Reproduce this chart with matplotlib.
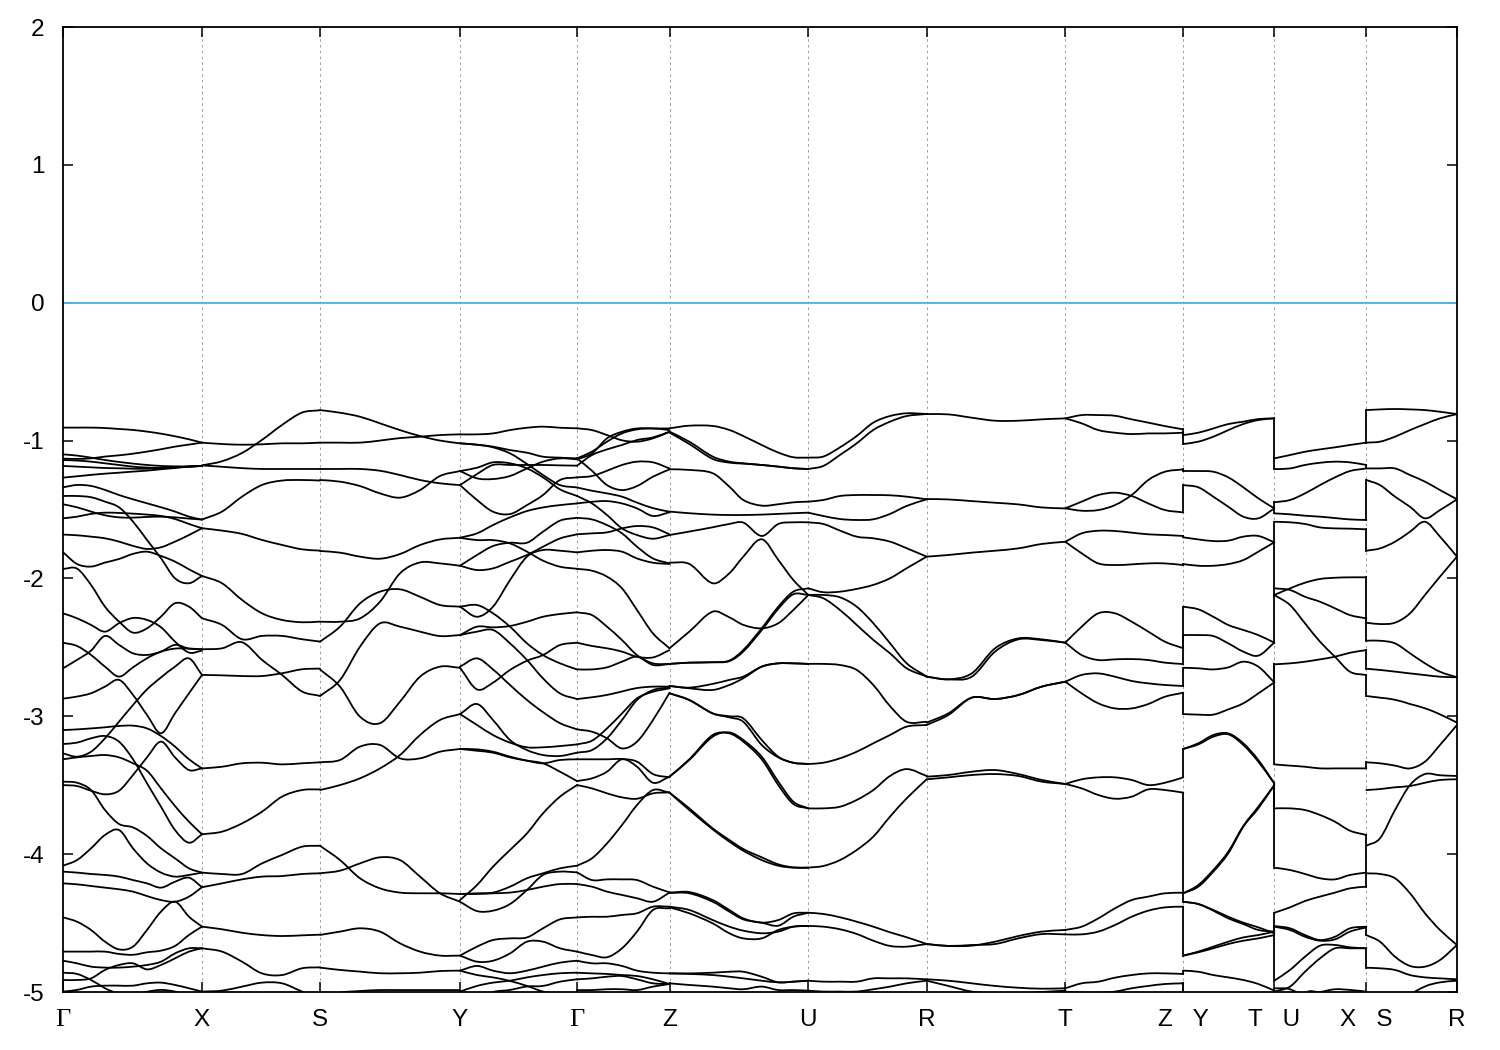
import matplotlib
matplotlib.use("Agg")
import matplotlib.pyplot as plt
from matplotlib.path import Path
from matplotlib.patches import PathPatch

# symmetry points along the k-path
tick_k = [0.0, 1.39, 2.57, 3.97, 5.14, 6.065, 7.453, 8.637, 10.023, 11.203, 12.113, 13.033, 13.94]
tick_labels = ["\u0393", "X", "S", "Y", "\u0393", "Z", "U", "R", "T", "Z   Y", "T   U", "X   S", "R"]
energy_ticks = [-5, -4, -3, -2, -1, 0, 1, 2]

k_gx = [0.0, .14, .28, .42, .56, .70, .84, .98, 1.12, 1.26, 1.39]
e_gx = [
 [-.906,-.906,-.906,-.909,-.916,-.923,-.935,-.95,-.969,-.991,-1.015],
 [-1.131,-1.133,-1.129,-1.116,-1.107,-1.095,-1.08,-1.063,-1.044,-1.029,-1.015],
 [-1.10,-1.109,-1.124,-1.141,-1.155,-1.167,-1.177,-1.184,-1.187,-1.187,-1.184],
 [-1.141,-1.145,-1.153,-1.165,-1.177,-1.189,-1.196,-1.199,-1.194,-1.189,-1.184],
 [-1.184,-1.189,-1.194,-1.199,-1.201,-1.204,-1.204,-1.199,-1.194,-1.189,-1.184],
 [-1.269,-1.259,-1.249,-1.24,-1.233,-1.225,-1.218,-1.208,-1.199,-1.189,-1.184],
 [-1.339,-1.322,-1.329,-1.358,-1.395,-1.426,-1.455,-1.484,-1.515,-1.552,-1.573],
 [-1.402,-1.402,-1.411,-1.443,-1.484,-1.588,-1.721,-1.854,-1.999,-2.035,-1.982],
 [-1.462,-1.484,-1.515,-1.542,-1.557,-1.559,-1.554,-1.552,-1.557,-1.566,-1.573],
 [-1.564,-1.552,-1.532,-1.523,-1.525,-1.53,-1.537,-1.547,-1.569,-1.605,-1.636],
 [-1.682,-1.687,-1.697,-1.709,-1.733,-1.764,-1.786,-1.774,-1.733,-1.685,-1.636],
 [-1.81,-1.895,-1.914,-1.885,-1.859,-1.822,-1.806,-1.837,-1.878,-1.934,-1.982],
 [-1.931,-1.929,-2.047,-2.205,-2.313,-2.393,-2.362,-2.277,-2.18,-2.205,-2.289],
 [-2.253,-2.289,-2.337,-2.386,-2.325,-2.287,-2.301,-2.354,-2.458,-2.538,-2.524],
 [-2.652,-2.591,-2.524,-2.417,-2.482,-2.543,-2.555,-2.531,-2.482,-2.509,-2.514],
 [-2.466,-2.49,-2.555,-2.64,-2.712,-2.645,-2.579,-2.531,-2.509,-2.509,-2.514],
 [-2.872,-2.857,-2.833,-2.785,-2.736,-2.845,-2.99,-3.123,-2.978,-2.833,-2.70],
 [-3.269,-3.293,-3.257,-3.16,-3.039,-2.918,-2.805,-2.718,-2.64,-2.58,-2.70],
 [-3.10,-3.095,-3.088,-3.08,-3.07,-3.068,-3.088,-3.143,-3.22,-3.312,-3.378],
 [-3.201,-3.191,-3.16,-3.143,-3.184,-3.312,-3.486,-3.656,-3.825,-3.917,-3.856],
 [-3.312,-3.298,-3.288,-3.281,-3.298,-3.341,-3.395,-3.523,-3.651,-3.765,-3.856],
 [-3.499,-3.506,-3.54,-3.566,-3.54,-3.426,-3.298,-3.184,-3.298,-3.39,-3.378],
 [-3.474,-3.482,-3.535,-3.68,-3.781,-3.806,-3.868,-3.958,-4.03,-4.103,-4.134],
 [-4.084,-4.043,-3.958,-3.861,-3.825,-3.958,-4.067,-4.134,-4.163,-4.151,-4.134],
 [-4.127,-4.134,-4.144,-4.151,-4.163,-4.188,-4.212,-4.243,-4.2,-4.171,-4.24],
 [-4.212,-4.219,-4.231,-4.243,-4.255,-4.272,-4.304,-4.333,-4.345,-4.308,-4.24],
 [-4.458,-4.49,-4.55,-4.635,-4.691,-4.671,-4.55,-4.417,-4.345,-4.454,-4.526],
 [-4.707,-4.707,-4.707,-4.707,-4.724,-4.73,-4.712,-4.70,-4.666,-4.586,-4.526],
 [-4.773,-4.792,-4.816,-4.823,-4.823,-4.816,-4.804,-4.78,-4.72,-4.683,-4.683],
 [-4.913,-4.913,-4.901,-4.84,-4.804,-4.792,-4.836,-4.804,-4.756,-4.707,-4.683],
 [-4.86,-4.869,-4.913,-4.973,-5.03,-5.2,-5.2,-5.2,-5.2,-5.2,-5.2],
 [-4.997,-4.985,-4.961,-4.954,-4.954,-4.954,-4.937,-4.932,-4.949,-4.973,-4.997],
 [-5.2,-5.2,-5.2,-5.2,-5.05,-5.02,-4.998,-4.985,-4.997,-5.03,-5.03],
]

k_xs = [1.39, 1.59, 1.79, 1.99, 2.19, 2.39, 2.57]
e_xs = [
 [-1.18,-1.15,-1.09,-.995,-.887,-.797,-.78],
 [-1.015,-1.025,-1.03,-1.027,-1.02,-1.02,-1.015],
 [-1.18,-1.19,-1.2,-1.206,-1.206,-1.206,-1.206],
 [-1.573,-1.515,-1.407,-1.322,-1.29,-1.286,-1.29],
 [-1.636,-1.653,-1.677,-1.721,-1.757,-1.789,-1.798],
 [-1.982,-2.035,-2.156,-2.253,-2.301,-2.318,-2.313],
 [-2.289,-2.337,-2.441,-2.417,-2.417,-2.441,-2.458],
 [-2.514,-2.507,-2.463,-2.591,-2.70,-2.82,-2.852],
 [-2.70,-2.703,-2.708,-2.708,-2.688,-2.659,-2.654],
 [-3.378,-3.366,-3.341,-3.337,-3.349,-3.341,-3.334],
 [-3.856,-3.837,-3.777,-3.692,-3.583,-3.535,-3.53],
 [-4.134,-4.144,-4.144,-4.067,-4.006,-3.946,-3.939],
 [-4.24,-4.212,-4.183,-4.163,-4.159,-4.144,-4.139],
 [-4.526,-4.545,-4.57,-4.587,-4.594,-4.589,-4.584],
 [-4.683,-4.707,-4.78,-4.865,-4.877,-4.828,-4.821],
 [-4.997,-4.99,-4.961,-4.932,-4.937,-4.997,-5.05],
]

k_sy = [2.57, 2.77, 2.97, 3.17, 3.37, 3.57, 3.77, 3.97]
e_sy = [
 [-.779,-.798,-.827,-.875,-.924,-.967,-1.0,-1.02],
 [-1.015,-1.015,-1.015,-1.0,-.982,-.972,-.96,-.955],
 [-1.206,-1.206,-1.206,-1.219,-1.25,-1.286,-1.31,-1.323],
 [-1.286,-1.298,-1.33,-1.383,-1.414,-1.359,-1.257,-1.221],
 [-1.801,-1.813,-1.842,-1.857,-1.823,-1.758,-1.717,-1.705],
 [-2.314,-2.314,-2.29,-2.169,-1.963,-1.884,-1.891,-1.908],
 [-2.459,-2.35,-2.181,-2.096,-2.079,-2.133,-2.193,-2.205],
 [-2.853,-2.737,-2.495,-2.326,-2.35,-2.386,-2.418,-2.411],
 [-2.66,-2.785,-3.003,-3.05,-2.894,-2.713,-2.64,-2.648],
 [-3.334,-3.317,-3.22,-3.208,-3.305,-3.305,-3.257,-3.237],
 [-3.535,-3.499,-3.45,-3.378,-3.281,-3.136,-3.027,-2.984],
 [-3.939,-4.043,-4.175,-4.248,-4.279,-4.284,-4.284,-4.289],
 [-4.139,-4.12,-4.067,-4.023,-4.043,-4.163,-4.284,-4.345],
 [-4.586,-4.562,-4.538,-4.562,-4.647,-4.707,-4.736,-4.736],
 [-4.823,-4.84,-4.852,-4.864,-4.864,-4.86,-4.848,-4.845],
 [-5.05,-5.005,-4.993,-4.986,-4.986,-4.986,-4.986,-4.986],
]

k_yg = [3.97, 4.14, 4.30, 4.47, 4.64, 4.80, 4.97, 5.14]
e_yg = [
 [-.955,-.955,-.948,-.924,-.907,-.899,-.907,-.911],
 [-1.02,-1.03,-1.044,-1.069,-1.088,-1.117,-1.124,-1.129],
 [-1.02,-1.03,-1.049,-1.093,-1.17,-1.25,-1.323,-1.34],
 [-1.221,-1.197,-1.158,-1.165,-1.202,-1.267,-1.354,-1.402],
 [-1.323,-1.243,-1.177,-1.177,-1.177,-1.177,-1.18,-1.182],
 [-1.221,-1.274,-1.279,-1.257,-1.202,-1.153,-1.129,-1.136],
 [-1.323,-1.431,-1.516,-1.533,-1.468,-1.395,-1.286,-1.267],
 [-1.705,-1.673,-1.613,-1.557,-1.511,-1.485,-1.468,-1.456],
 [-1.705,-1.722,-1.722,-1.746,-1.806,-1.871,-1.915,-1.93],
 [-1.908,-1.83,-1.765,-1.741,-1.741,-1.661,-1.581,-1.56],
 [-1.908,-1.939,-1.927,-1.879,-1.83,-1.77,-1.71,-1.68],
 [-2.205,-2.278,-2.205,-2.012,-1.842,-1.794,-1.799,-1.811],
 [-2.205,-2.193,-2.253,-2.35,-2.471,-2.556,-2.616,-2.66],
 [-2.411,-2.35,-2.355,-2.345,-2.314,-2.278,-2.258,-2.246],
 [-2.411,-2.386,-2.374,-2.471,-2.592,-2.725,-2.834,-2.875],
 [-2.64,-2.58,-2.66,-2.773,-2.882,-2.97,-3.05,-3.095],
 [-2.648,-2.805,-2.756,-2.664,-2.597,-2.556,-2.483,-2.466],
 [-2.984,-2.911,-3.027,-3.172,-3.245,-3.281,-3.288,-3.264],
 [-2.984,-3.063,-3.136,-3.191,-3.225,-3.225,-3.216,-3.204],
 [-3.237,-3.24,-3.257,-3.293,-3.322,-3.341,-3.317,-3.312],
 [-3.237,-3.25,-3.264,-3.298,-3.322,-3.341,-3.402,-3.47],
 [-4.333,-4.224,-4.091,-3.97,-3.849,-3.704,-3.583,-3.499],
 [-4.289,-4.284,-4.279,-4.236,-4.175,-4.139,-4.103,-4.084],
 [-4.289,-4.289,-4.284,-4.279,-4.26,-4.236,-4.217,-4.217],
 [-4.345,-4.413,-4.41,-4.362,-4.26,-4.151,-4.127,-4.132],
 [-4.736,-4.671,-4.623,-4.611,-4.604,-4.538,-4.473,-4.459],
 [-4.736,-4.78,-4.773,-4.72,-4.635,-4.635,-4.683,-4.707],
 [-4.845,-4.811,-4.845,-4.864,-4.845,-4.816,-4.787,-4.773],
 [-4.845,-4.877,-4.894,-4.92,-4.956,-4.997,-5.02,-5.05],
 [-4.997,-4.956,-4.932,-4.918,-4.894,-4.877,-4.864,-4.86],
 [-5.1,-5.05,-5.0,-4.985,-4.96,-4.956,-4.925,-4.908],
]

k_gz = [5.14, 5.29, 5.44, 5.59, 5.74, 5.90, 6.065]
e_gz = [
 [-.911,-.924,-.96,-.998,-1.008,-.984,-.936],
 [-1.129,-1.08,-1.008,-.948,-.919,-.912,-.924],
 [-1.136,-1.093,-.984,-.936,-.912,-.912,-.912],
 [-1.182,-1.105,-1.064,-1.032,-.996,-.977,-.936],
 [-1.129,-1.219,-1.323,-1.359,-1.33,-1.262,-1.209],
 [-1.267,-1.257,-1.219,-1.177,-1.153,-1.158,-1.202],
 [-1.34,-1.364,-1.383,-1.407,-1.45,-1.49,-1.516],
 [-1.456,-1.444,-1.439,-1.456,-1.492,-1.547,-1.52],
 [-1.402,-1.456,-1.54,-1.637,-1.685,-1.712,-1.685],
 [-1.56,-1.572,-1.613,-1.673,-1.77,-1.855,-1.891],
 [-1.68,-1.673,-1.666,-1.637,-1.62,-1.63,-1.68],
 [-1.811,-1.799,-1.794,-1.806,-1.855,-1.886,-1.895],
 [-1.93,-1.944,-1.987,-2.072,-2.229,-2.399,-2.507],
 [-2.246,-2.266,-2.35,-2.447,-2.556,-2.616,-2.621],
 [-2.466,-2.49,-2.507,-2.531,-2.568,-2.573,-2.52],
 [-2.66,-2.66,-2.645,-2.604,-2.568,-2.628,-2.621],
 [-2.875,-2.862,-2.845,-2.82,-2.795,-2.785,-2.785],
 [-3.095,-3.112,-3.16,-3.233,-3.184,-3.027,-2.83],
 [-3.204,-3.177,-3.088,-2.979,-2.87,-2.822,-2.797],
 [-3.264,-3.245,-3.16,-3.027,-2.882,-2.81,-2.79],
 [-3.312,-3.312,-3.312,-3.31,-3.329,-3.419,-3.443],
 [-3.47,-3.45,-3.402,-3.312,-3.366,-3.482,-3.438],
 [-3.499,-3.523,-3.559,-3.588,-3.598,-3.559,-3.552],
 [-4.084,-4.03,-3.922,-3.789,-3.644,-3.535,-3.554],
 [-4.132,-4.188,-4.183,-4.183,-4.188,-4.236,-4.277],
 [-4.217,-4.236,-4.272,-4.296,-4.32,-4.345,-4.279],
 [-4.459,-4.454,-4.454,-4.441,-4.429,-4.381,-4.381],
 [-4.707,-4.732,-4.748,-4.683,-4.562,-4.405,-4.393],
 [-4.773,-4.792,-4.792,-4.811,-4.845,-4.86,-4.865],
 [-4.86,-4.865,-4.869,-4.877,-4.884,-4.908,-4.942],
 [-4.908,-4.901,-4.889,-4.884,-4.908,-4.937,-4.942],
 [-4.986,-4.986,-4.98,-4.98,-4.986,-4.961,-4.942],
]

k_zu = [6.065, 6.263, 6.497, 6.663, 6.803, 6.987, 7.153, 7.303, 7.453]
e_zu = [
 [-.911,-.892,-.894,-.923,-.967,-1.032,-1.087,-1.121,-1.124],
 [-.935,-1.008,-1.116,-1.153,-1.165,-1.177,-1.189,-1.201,-1.206],
 [-.942,-1.025,-1.133,-1.16,-1.167,-1.177,-1.189,-1.201,-1.206],
 [-1.208,-1.213,-1.237,-1.334,-1.431,-1.472,-1.462,-1.448,-1.443],
 [-1.515,-1.527,-1.537,-1.54,-1.54,-1.537,-1.532,-1.527,-1.523],
 [-1.685,-1.66,-1.629,-1.605,-1.595,-1.692,-1.605,-1.593,-1.593],
 [-1.885,-1.895,-2.035,-1.963,-1.842,-1.716,-1.866,-2.011,-2.12],
 [-2.507,-2.386,-2.241,-2.282,-2.337,-2.362,-2.325,-2.229,-2.12],
 [-2.62,-2.611,-2.608,-2.596,-2.519,-2.362,-2.205,-2.096,-2.072],
 [-2.62,-2.611,-2.608,-2.6,-2.53,-2.375,-2.22,-2.115,-2.12],
 [-2.78,-2.797,-2.809,-2.773,-2.724,-2.64,-2.616,-2.616,-2.62],
 [-2.78,-2.792,-2.765,-2.736,-2.712,-2.64,-2.616,-2.616,-2.62],
 [-2.833,-2.882,-2.979,-3.008,-3.04,-3.208,-3.298,-3.337,-3.346],
 [-2.833,-2.882,-2.979,-3.0,-3.015,-3.172,-3.293,-3.337,-3.346],
 [-3.438,-3.317,-3.148,-3.117,-3.172,-3.293,-3.474,-3.619,-3.668],
 [-3.438,-3.312,-3.136,-3.124,-3.184,-3.312,-3.499,-3.636,-3.668],
 [-3.554,-3.668,-3.813,-3.897,-3.963,-4.023,-4.074,-4.096,-4.098],
 [-3.554,-3.68,-3.82,-3.909,-3.975,-4.043,-4.084,-4.098,-4.098],
 [-4.28,-4.275,-4.333,-4.405,-4.466,-4.497,-4.478,-4.43,-4.425],
 [-4.28,-4.284,-4.345,-4.417,-4.473,-4.497,-4.519,-4.454,-4.425],
 [-4.381,-4.405,-4.478,-4.526,-4.555,-4.574,-4.562,-4.526,-4.521],
 [-4.386,-4.429,-4.502,-4.574,-4.611,-4.611,-4.55,-4.526,-4.521],
 [-4.865,-4.865,-4.86,-4.853,-4.853,-4.889,-4.93,-4.925,-4.918],
 [-4.865,-4.869,-4.877,-4.889,-4.901,-4.918,-4.93,-4.925,-4.918],
 [-4.937,-4.949,-4.961,-4.973,-4.98,-4.961,-4.986,-4.986,-4.99],
]

k_ur = [7.453, 7.603, 7.77, 7.937, 8.103, 8.27, 8.437, 8.637]
e_ur = [
 [-1.124,-1.116,-1.049,-.967,-.87,-.822,-.802,-.807],
 [-1.206,-1.184,-1.104,-1.02,-.923,-.863,-.822,-.807],
 [-1.443,-1.431,-1.402,-1.395,-1.395,-1.397,-1.407,-1.426],
 [-1.523,-1.547,-1.569,-1.576,-1.571,-1.532,-1.474,-1.426],
 [-1.593,-1.605,-1.653,-1.697,-1.709,-1.733,-1.781,-1.842],
 [-2.072,-2.1,-2.096,-2.076,-2.047,-1.999,-1.926,-1.842],
 [-2.12,-2.12,-2.137,-2.205,-2.325,-2.47,-2.616,-2.712],
 [-2.12,-2.144,-2.229,-2.337,-2.446,-2.543,-2.652,-2.712],
 [-2.62,-2.62,-2.628,-2.664,-2.773,-2.926,-3.04,-3.04],
 [-3.346,-3.337,-3.305,-3.257,-3.196,-3.136,-3.075,-3.063],
 [-3.668,-3.668,-3.656,-3.607,-3.535,-3.433,-3.383,-3.433],
 [-4.098,-4.086,-4.043,-3.97,-3.873,-3.728,-3.595,-3.457],
 [-4.425,-4.434,-4.458,-4.49,-4.526,-4.567,-4.603,-4.652],
 [-4.521,-4.526,-4.545,-4.579,-4.628,-4.666,-4.671,-4.652],
 [-4.918,-4.925,-4.925,-4.925,-4.901,-4.901,-4.901,-4.908],
 [-4.99,-4.997,-4.997,-4.997,-4.98,-4.961,-4.937,-4.918],
]

k_rt = [8.637, 8.853, 9.087, 9.32, 9.553, 9.787, 10.023]
e_rt = [
 [-.808,-.81,-.834,-.856,-.856,-.846,-.839],
 [-1.424,-1.427,-1.439,-1.451,-1.463,-1.485,-1.492],
 [-1.842,-1.83,-1.813,-1.799,-1.782,-1.75,-1.734],
 [-2.713,-2.732,-2.713,-2.531,-2.442,-2.447,-2.466],
 [-2.713,-2.732,-2.689,-2.507,-2.435,-2.442,-2.466],
 [-3.046,-2.979,-2.865,-2.875,-2.846,-2.785,-2.749],
 [-3.063,-2.991,-2.865,-2.875,-2.846,-2.785,-2.749],
 [-3.438,-3.426,-3.402,-3.39,-3.419,-3.462,-3.491],
 [-3.457,-3.443,-3.426,-3.419,-3.433,-3.474,-3.491],
 [-4.652,-4.666,-4.664,-4.635,-4.594,-4.562,-4.55],
 [-4.652,-4.666,-4.659,-4.652,-4.611,-4.58,-4.582],
 [-4.908,-4.918,-4.937,-4.956,-4.969,-4.976,-4.973],
 [-4.918,-4.956,-4.997,-5.01,-5.01,-5.0,-4.99],
]

k_tz = [10.023, 10.187, 10.353, 10.52, 10.687, 10.853, 11.02, 11.203]
e_tz = [
 [-.839,-.815,-.815,-.82,-.846,-.87,-.895,-.919],
 [-.839,-.875,-.924,-.943,-.953,-.948,-.948,-.943],
 [-1.492,-1.443,-1.395,-1.378,-1.402,-1.456,-1.504,-1.521],
 [-1.492,-1.509,-1.504,-1.468,-1.395,-1.286,-1.226,-1.209],
 [-1.734,-1.673,-1.654,-1.656,-1.668,-1.68,-1.685,-1.692],
 [-1.734,-1.818,-1.891,-1.903,-1.898,-1.891,-1.891,-1.903],
 [-2.466,-2.35,-2.253,-2.253,-2.314,-2.386,-2.459,-2.507],
 [-2.466,-2.556,-2.592,-2.587,-2.585,-2.592,-2.611,-2.621],
 [-2.749,-2.7,-2.689,-2.713,-2.744,-2.761,-2.773,-2.78],
 [-2.749,-2.834,-2.906,-2.943,-2.943,-2.911,-2.858,-2.829],
 [-3.491,-3.457,-3.443,-3.443,-3.462,-3.499,-3.482,-3.443],
 [-3.491,-3.523,-3.571,-3.598,-3.583,-3.53,-3.535,-3.554],
 [-4.55,-4.526,-4.466,-4.393,-4.333,-4.308,-4.284,-4.28],
 [-4.582,-4.582,-4.562,-4.514,-4.454,-4.41,-4.386,-4.381],
 [-4.973,-4.937,-4.925,-4.896,-4.877,-4.865,-4.865,-4.869],
 [-4.997,-5.005,-5.005,-4.997,-4.973,-4.956,-4.942,-4.937],
]

k_yt = [11.203, 11.353, 11.503, 11.653, 11.803, 11.953, 12.113]
e_yt = [
 [-.96,-.943,-.912,-.88,-.863,-.844,-.839],
 [-1.025,-1.008,-.972,-.924,-.88,-.851,-.839],
 [-1.221,-1.221,-1.226,-1.267,-1.339,-1.419,-1.492],
 [-1.323,-1.339,-1.407,-1.48,-1.552,-1.564,-1.492],
 [-1.702,-1.717,-1.729,-1.726,-1.697,-1.692,-1.738],
 [-1.896,-1.908,-1.908,-1.896,-1.867,-1.806,-1.738],
 [-2.205,-2.224,-2.278,-2.338,-2.374,-2.411,-2.466],
 [-2.411,-2.411,-2.418,-2.471,-2.531,-2.56,-2.466],
 [-2.648,-2.652,-2.66,-2.645,-2.604,-2.64,-2.754],
 [-2.984,-2.988,-2.988,-2.95,-2.906,-2.834,-2.754],
 [-3.237,-3.196,-3.136,-3.124,-3.196,-3.317,-3.487],
 [-3.237,-3.204,-3.148,-3.131,-3.208,-3.329,-3.487],
 [-4.284,-4.236,-4.127,-3.994,-3.801,-3.668,-3.499],
 [-4.284,-4.224,-4.115,-3.982,-3.796,-3.656,-3.499],
 [-4.345,-4.362,-4.405,-4.454,-4.497,-4.531,-4.574],
 [-4.345,-4.362,-4.41,-4.466,-4.507,-4.55,-4.562],
 [-4.736,-4.707,-4.671,-4.635,-4.604,-4.587,-4.562],
 [-4.736,-4.712,-4.683,-4.652,-4.628,-4.611,-4.587],
 [-4.845,-4.853,-4.877,-4.894,-4.913,-4.942,-4.99],
]

k_ux = [12.113, 12.27, 12.42, 12.57, 12.72, 12.87, 13.033]
e_ux = [
 [-1.129,-1.105,-1.081,-1.064,-1.049,-1.032,-1.015],
 [-1.207,-1.202,-1.177,-1.161,-1.153,-1.158,-1.177],
 [-1.448,-1.431,-1.383,-1.323,-1.267,-1.221,-1.202],
 [-1.528,-1.535,-1.545,-1.552,-1.562,-1.572,-1.576],
 [-1.589,-1.593,-1.605,-1.63,-1.637,-1.639,-1.644],
 [-2.12,-2.072,-2.031,-2.004,-1.995,-1.992,-1.992],
 [-2.072,-2.084,-2.133,-2.169,-2.217,-2.266,-2.29],
 [-2.12,-2.193,-2.326,-2.459,-2.568,-2.677,-2.701],
 [-2.623,-2.616,-2.604,-2.587,-2.568,-2.539,-2.52],
 [-3.349,-3.358,-3.366,-3.378,-3.378,-3.378,-3.378],
 [-3.668,-3.668,-3.68,-3.716,-3.765,-3.83,-3.861],
 [-4.098,-4.115,-4.144,-4.175,-4.183,-4.151,-4.134],
 [-4.425,-4.386,-4.34,-4.308,-4.279,-4.248,-4.236],
 [-4.521,-4.538,-4.587,-4.623,-4.599,-4.538,-4.526],
 [-4.526,-4.55,-4.599,-4.628,-4.618,-4.562,-4.531],
 [-4.918,-4.84,-4.744,-4.664,-4.659,-4.676,-4.683],
 [-4.997,-4.961,-4.853,-4.756,-4.683,-4.683,-4.683],
 [-4.973,-4.98,-5.05,-5.2,-5.2,-5.2,-5.2],
 [-5.2,-5.2,-5.01,-5.0,-4.98,-4.985,-4.997],
]

k_sr = [13.033, 13.17, 13.32, 13.47, 13.62, 13.77, 13.94]
e_sr = [
 [-.779,-.774,-.771,-.774,-.779,-.791,-.808],
 [-1.015,-1.008,-.972,-.924,-.88,-.839,-.808],
 [-1.202,-1.202,-1.202,-1.25,-1.298,-1.359,-1.426],
 [-1.286,-1.323,-1.407,-1.48,-1.564,-1.504,-1.426],
 [-1.799,-1.782,-1.734,-1.661,-1.589,-1.697,-1.842],
 [-2.321,-2.331,-2.321,-2.253,-2.12,-1.987,-1.842],
 [-2.452,-2.452,-2.471,-2.543,-2.616,-2.677,-2.717],
 [-2.655,-2.664,-2.676,-2.689,-2.701,-2.713,-2.717],
 [-2.853,-2.865,-2.88,-2.911,-2.942,-2.986,-3.046],
 [-3.334,-3.341,-3.358,-3.378,-3.329,-3.208,-3.063],
 [-3.535,-3.528,-3.515,-3.506,-3.482,-3.462,-3.457],
 [-3.939,-3.885,-3.68,-3.499,-3.419,-3.428,-3.433],
 [-4.139,-4.144,-4.175,-4.284,-4.429,-4.55,-4.659],
 [-4.587,-4.635,-4.744,-4.811,-4.816,-4.768,-4.659],
 [-4.824,-4.828,-4.84,-4.877,-4.894,-4.901,-4.908],
 [-5.2,-5.2,-5.2,-5.03,-4.96,-4.93,-4.918],
]

# energies joined by a vertical step at each break in the path
k_break_zy = 11.203
e_break_zy = [(-.919,-.96),(-.943,-1.025),(-1.209,-1.221),(-1.521,-1.323),(-1.692,-1.702),
              (-1.903,-1.896),(-2.507,-2.205),(-2.621,-2.411),(-2.78,-2.648),(-2.829,-2.984),
              (-3.443,-3.237),(-3.554,-4.345),(-4.28,-4.284),(-4.381,-4.736),(-4.869,-4.845),(-4.937,-5.1)]
k_break_tu = 12.113
e_break_tu = [(-.839,-1.207),(-1.492,-1.448),(-1.492,-1.528),(-1.738,-1.589),(-1.738,-2.12),
              (-2.12,-2.466),(-2.754,-2.623),(-2.623,-3.349),(-3.487,-3.668),(-3.487,-4.098),
              (-4.425,-4.574),(-4.521,-4.574),(-4.587,-4.918),(-4.99,-5.0)]
k_break_xs = 13.033
e_break_xs = [(-1.015,-.779),(-1.177,-1.202),(-1.576,-1.286),(-1.644,-1.799),(-1.992,-2.321),
              (-2.29,-2.452),(-2.52,-2.655),(-2.701,-2.853),(-3.378,-3.334),(-3.861,-4.236),
              (-4.526,-4.587),(-4.683,-4.824),(-4.997,-5.1)]

panels = [(k_gx, e_gx), (k_xs, e_xs), (k_sy, e_sy), (k_yg, e_yg), (k_gz, e_gz), (k_zu, e_zu),
          (k_ur, e_ur), (k_rt, e_rt), (k_tz, e_tz), (k_yt, e_yt), (k_ux, e_ux), (k_sr, e_sr)]
breaks = [(k_break_zy, e_break_zy), (k_break_tu, e_break_tu), (k_break_xs, e_break_xs)]


def curve_through(k, e):
    """A path of matplotlib cubic segments passing through the read points."""
    n = len(k)
    slopes = []
    for i in range(n):
        a, b = max(i - 1, 0), min(i + 1, n - 1)
        slopes.append((e[b] - e[a]) / (k[b] - k[a]))
    verts = [(k[0], e[0])]
    codes = [Path.MOVETO]
    for i in range(n - 1):
        h = (k[i + 1] - k[i]) / 3
        verts += [(k[i] + h, e[i] + slopes[i] * h),
                  (k[i + 1] - h, e[i + 1] - slopes[i + 1] * h),
                  (k[i + 1], e[i + 1])]
        codes += [Path.CURVE4] * 3
    return Path(verts, codes)


plt.rcParams['font.family'] = ['Liberation Sans', 'DejaVu Sans']
plt.rcParams['axes.unicode_minus'] = False
fig = plt.figure(figsize=(15, 10.5), dpi=100)
ax = fig.add_axes([63/1500, 1-992/1050, (1457-63)/1500, (992-27)/1050])

for k, bands in panels:
    for e in bands:
        ax.add_patch(PathPatch(curve_through(k, e), fill=False, edgecolor='black',
                               lw=1.3, joinstyle='round', capstyle='round', zorder=3))
for k, pairs in breaks:
    for lo, hi in pairs:
        ax.plot([k, k], [lo, hi], color='black', lw=1.3, zorder=3)

ax.axhline(0, color='#56B4E4', lw=1.4, zorder=2)
for k in tick_k[1:-1]:
    ax.axvline(k, color='#a0a0a0', lw=0.75, ls=(0, (2.4, 3.2)), zorder=1)

ax.set_xlim(0, 13.94)
ax.set_ylim(-5, 2)
ax.set_yticks(energy_ticks)
ax.set_xticks(tick_k)
ax.set_xticklabels(tick_labels)
ax.tick_params(axis='both', direction='in', length=7.5, width=1.1, labelsize=17.5,
               top=True, right=True, color='black')
ax.tick_params(axis='y', pad=13.5)
ax.tick_params(axis='x', pad=12.5)
for s in ax.spines.values():
    s.set_linewidth(1.3)
    s.set_zorder(5)
for lab, txt in zip(ax.get_xticklabels(), tick_labels):
    if txt == "\u0393":
        lab.set_fontfamily(['Liberation Serif', 'DejaVu Serif'])
        lab.set_fontsize(19)
fig.savefig('out.png', dpi=100, facecolor='white')
